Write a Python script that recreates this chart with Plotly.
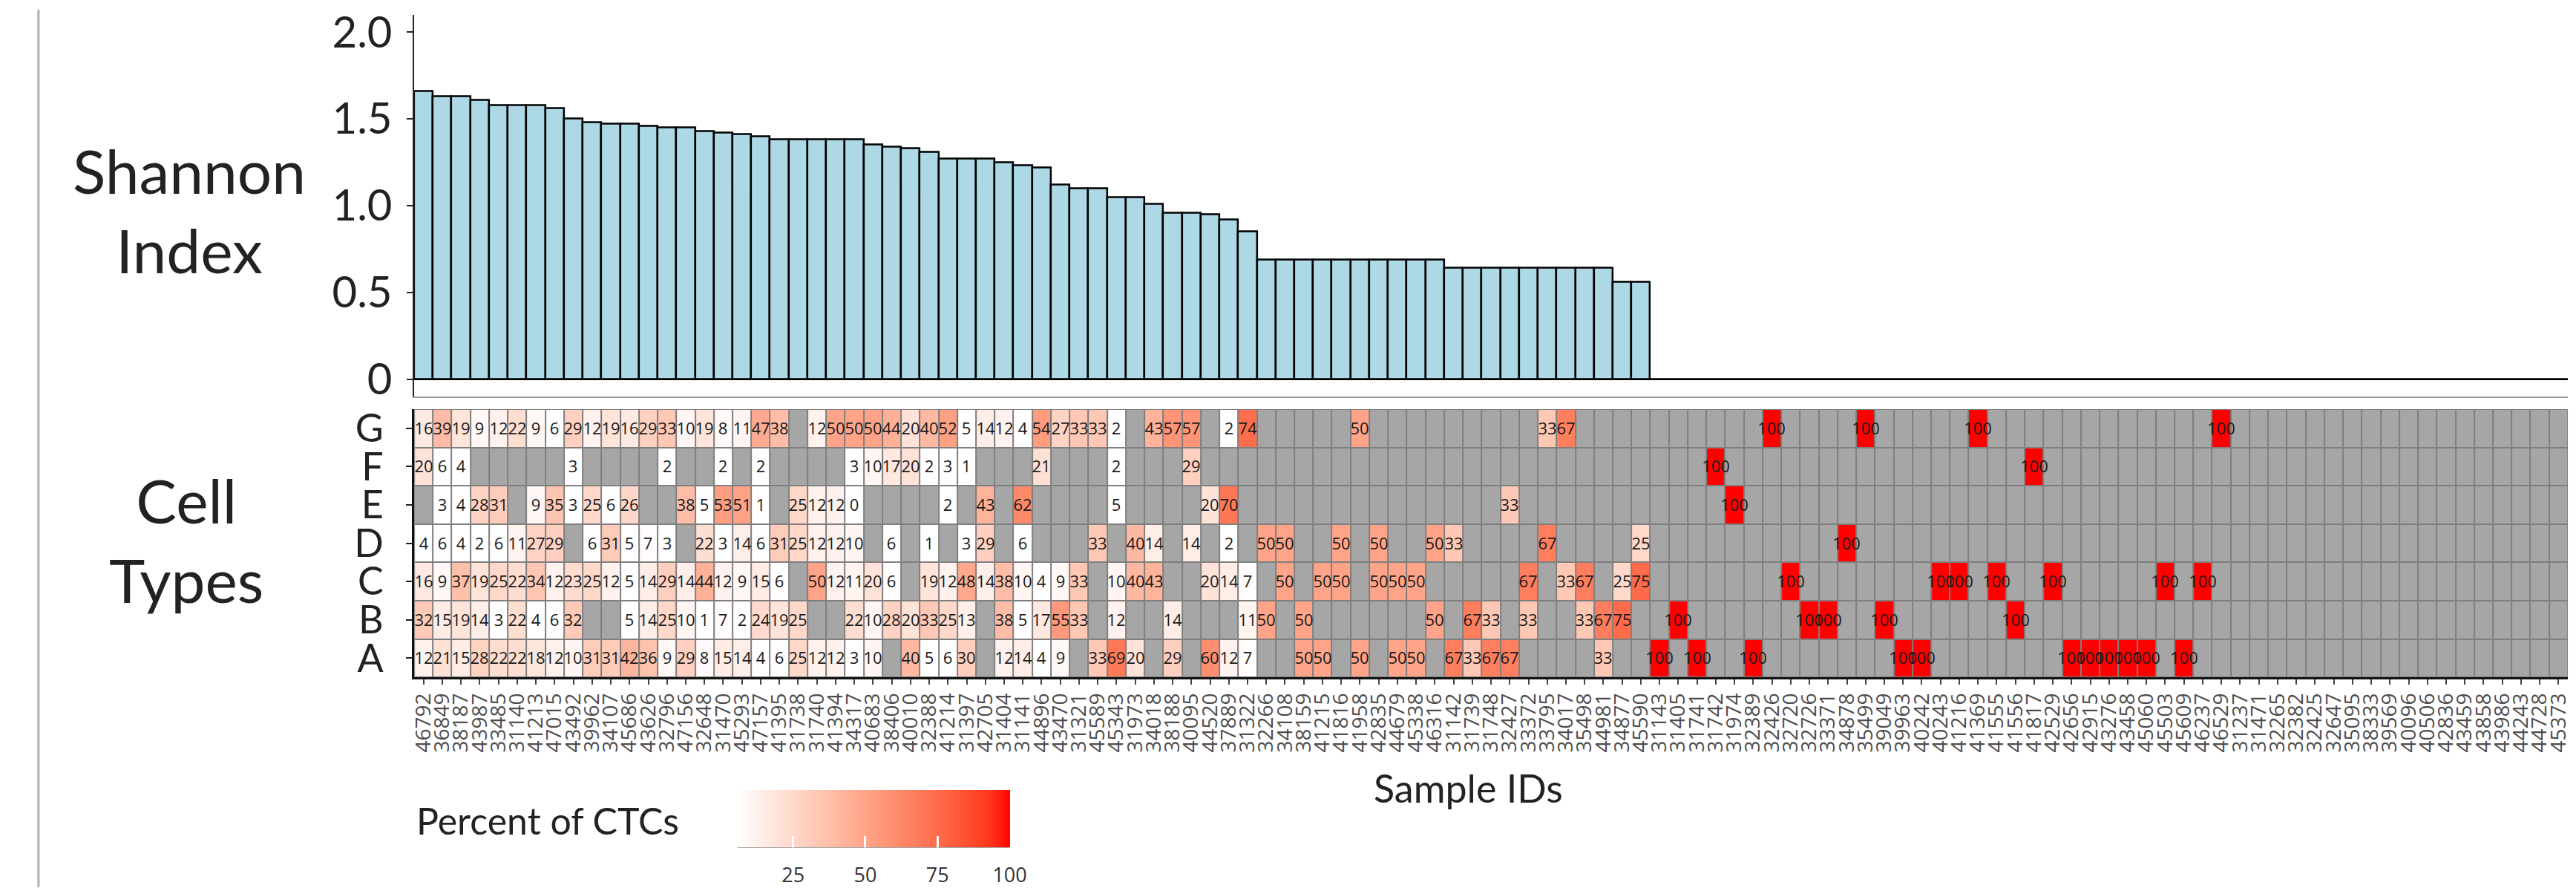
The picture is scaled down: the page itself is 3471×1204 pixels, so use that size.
import numpy as np
import plotly.graph_objects as go

N = None
W, H = 3471, 1204

samples = [
    "46792", "36849", "38187", "43987", "33485", "31140", "41213", "47015", "43492", "39962",
    "34107", "45686", "43626", "32796", "47156", "32648", "31470", "45293", "47157", "41395",
    "31738", "31740", "41394", "34317", "40683", "38406", "40010", "32388", "41214", "31397",
    "42705", "31404", "31141", "44896", "43470", "31321", "45589", "45343", "31973", "34018",
    "38188", "40095", "44520", "37889", "31322", "32266", "34108", "38159", "41215", "41816",
    "41958", "42835", "44679", "45338", "46316", "31142", "31739", "31748", "32427", "33372",
    "33795", "34017", "35498", "44981", "34877", "45590", "31143", "31405", "31741", "31742",
    "31974", "32389", "32426", "32720", "32726", "33371", "34878", "35499", "39049", "39963",
    "40242", "40243", "41216", "41369", "41555", "41556", "41817", "42529", "42656", "42915",
    "43276", "43458", "45060", "45503", "45609", "46237", "46529", "31237", "31471", "32265",
    "32382", "32425", "32647", "35095", "38333", "39569", "40096", "40506", "42836", "43459",
    "43858", "43986", "44243", "44728", "45373",
]

shannon = [
    1.66, 1.63, 1.63, 1.61, 1.58, 1.58, 1.58, 1.56, 1.50, 1.48,
    1.47, 1.47, 1.46, 1.45, 1.45, 1.43, 1.42, 1.41, 1.40, 1.38,
    1.38, 1.38, 1.38, 1.38, 1.35, 1.34, 1.33, 1.31, 1.27, 1.27,
    1.27, 1.25, 1.23, 1.22, 1.12, 1.10, 1.10, 1.05, 1.05, 1.01,
    0.96, 0.96, 0.95, 0.92, 0.85, 0.69, 0.69, 0.69, 0.69, 0.69,
    0.69, 0.69, 0.69, 0.69, 0.69, 0.64, 0.64, 0.64, 0.64, 0.64,
    0.64, 0.64, 0.64, 0.64, 0.56, 0.56, 0, 0, 0, 0,
    0, 0, 0, 0, 0, 0, 0, 0, 0, 0,
    0, 0, 0, 0, 0, 0, 0, 0, 0, 0,
    0, 0, 0, 0, 0, 0, 0, 0, 0, 0,
    0, 0, 0, 0, 0, 0, 0, 0, 0, 0,
    0, 0, 0, 0, 0,
]

row_G = [16, 39, 19, 9, 12, 22, 9, 6, 29, 12,
         19, 16, 29, 33, 10, 19, 8, 11, 47, 38,
         N, 12, 50, 50, 50, 44, 20, 40, 52, 5,
         14, 12, 4, 54, 27, 33, 33, 2, N, 43,
         57, 57, N, 2, 74, N, N, N, N, N,
         50, N, N, N, N, N, N, N, N, N,
         33, 67, N, N, N, N, N, N, N, N,
         N, N, 100, N, N, N, N, 100, N, N,
         N, N, N, 100, N, N, N, N, N, N,
         N, N, N, N, N, N, 100, N, N, N,
         N, N, N, N, N, N, N, N, N, N,
         N, N, N, N, N]
row_F = [20, 6, 4, N, N, N, N, N, 3, N,
         N, N, N, 2, N, N, 2, N, 2, N,
         N, N, N, 3, 10, 17, 20, 2, 3, 1,
         N, N, N, 21, N, N, N, 2, N, N,
         N, 29, N, N, N, N, N, N, N, N,
         N, N, N, N, N, N, N, N, N, N,
         N, N, N, N, N, N, N, N, N, 100,
         N, N, N, N, N, N, N, N, N, N,
         N, N, N, N, N, N, 100, N, N, N,
         N, N, N, N, N, N, N, N, N, N,
         N, N, N, N, N, N, N, N, N, N,
         N, N, N, N, N]
row_E = [N, 3, 4, 28, 31, N, 9, 35, 3, 25,
         6, 26, N, N, 38, 5, 53, 51, 1, N,
         25, 12, 12, 0, N, N, N, N, 2, N,
         43, N, 62, N, N, N, N, 5, N, N,
         N, N, 20, 70, N, N, N, N, N, N,
         N, N, N, N, N, N, N, N, 33, N,
         N, N, N, N, N, N, N, N, N, N,
         100, N, N, N, N, N, N, N, N, N,
         N, N, N, N, N, N, N, N, N, N,
         N, N, N, N, N, N, N, N, N, N,
         N, N, N, N, N, N, N, N, N, N,
         N, N, N, N, N]
row_D = [4, 6, 4, 2, 6, 11, 27, 29, N, 6,
         31, 5, 7, 3, N, 22, 3, 14, 6, 31,
         25, 12, 12, 10, N, 6, N, 1, N, 3,
         29, N, 6, N, N, N, 33, N, 40, 14,
         N, 14, N, 2, N, 50, 50, N, N, 50,
         N, 50, N, N, 50, 33, N, N, N, N,
         67, N, N, N, N, 25, N, N, N, N,
         N, N, N, N, N, N, 100, N, N, N,
         N, N, N, N, N, N, N, N, N, N,
         N, N, N, N, N, N, N, N, N, N,
         N, N, N, N, N, N, N, N, N, N,
         N, N, N, N, N]
row_C = [16, 9, 37, 19, 25, 22, 34, 12, 23, 25,
         12, 5, 14, 29, 14, 44, 12, 9, 15, 6,
         N, 50, 12, 11, 20, 6, N, 19, 12, 48,
         14, 38, 10, 4, 9, 33, N, 10, 40, 43,
         N, N, 20, 14, 7, N, 50, N, 50, 50,
         N, 50, 50, 50, N, N, N, N, N, 67,
         N, 33, 67, N, 25, 75, N, N, N, N,
         N, N, N, 100, N, N, N, N, N, N,
         N, 100, 100, N, 100, N, N, 100, N, N,
         N, N, N, 100, N, 100, N, N, N, N,
         N, N, N, N, N, N, N, N, N, N,
         N, N, N, N, N]
row_B = [32, 15, 19, 14, 3, 22, 4, 6, 32, N,
         N, 5, 14, 25, 10, 1, 7, 2, 24, 19,
         25, N, N, 22, 10, 28, 20, 33, 25, 13,
         N, 38, 5, 17, 55, 33, N, 12, N, N,
         14, N, N, N, 11, 50, N, 50, N, N,
         N, N, N, N, 50, N, 67, 33, N, 33,
         N, N, 33, 67, 75, N, N, 100, N, N,
         N, N, N, N, 100, 100, N, N, 100, N,
         N, N, N, N, N, 100, N, N, N, N,
         N, N, N, N, N, N, N, N, N, N,
         N, N, N, N, N, N, N, N, N, N,
         N, N, N, N, N]
row_A = [12, 21, 15, 28, 22, 22, 18, 12, 10, 31,
         31, 42, 36, 9, 29, 8, 15, 14, 4, 6,
         25, 12, 12, 3, 10, N, 40, 5, 6, 30,
         N, 12, 14, 4, 9, N, 33, 69, 20, N,
         29, N, 60, 12, 7, N, N, 50, 50, N,
         50, N, 50, 50, N, 67, 33, 67, 67, N,
         N, N, N, 33, N, N, 100, N, 100, N,
         N, 100, N, N, N, N, N, N, N, 100,
         100, N, N, N, N, N, N, N, 100, 100,
         100, 100, 100, N, 100, N, N, N, N, N,
         N, N, N, N, N, N, N, N, N, N,
         N, N, N, N, N]

cell_types = ["A", "B", "C", "D", "E", "F", "G"]
legend_ticks = [25, 50, 75, 100]
rows = [row_A, row_B, row_C, row_D, row_E, row_F, row_G]
for r in rows:
    assert len(r) == len(samples), len(r)
assert len(shannon) == len(samples)

z = np.array([[np.nan if v is None else v for v in r] for r in rows], dtype=float)
txt = [["" if v is None else str(v) for v in r] for r in rows]
z_na = np.where(np.isnan(z), 50.0, np.nan)


# white -> red gradient interpolated in CIELAB (like ggplot2 scale_fill_gradient)
def _lin(c):
    c = c / 255.0
    return c / 12.92 if c <= 0.04045 else ((c + 0.055) / 1.055) ** 2.4


def _gam(c):
    c = max(0.0, min(1.0, c))
    return 12.92 * c if c <= 0.0031308 else 1.055 * c ** (1 / 2.4) - 0.055


WN = (0.95047, 1.0, 1.08883)
D = 6 / 29


def _f(t):
    return t ** (1 / 3) if t > D ** 3 else t / (3 * D * D) + 4 / 29


def _fi(t):
    return t ** 3 if t > D else 3 * D * D * (t - 4 / 29)


def to_lab(rgb):
    r, g, b = [_lin(c) for c in rgb]
    X = 0.4124 * r + 0.3576 * g + 0.1805 * b
    Y = 0.2126 * r + 0.7152 * g + 0.0722 * b
    Z = 0.0193 * r + 0.1192 * g + 0.9505 * b
    fx, fy, fz = _f(X / WN[0]), _f(Y / WN[1]), _f(Z / WN[2])
    return (116 * fy - 16, 500 * (fx - fy), 200 * (fy - fz))


def to_rgb(lab):
    L, a, b = lab
    fy = (L + 16) / 116
    fx = fy + a / 500
    fz = fy - b / 200
    X, Y, Z = WN[0] * _fi(fx), WN[1] * _fi(fy), WN[2] * _fi(fz)
    r = 3.2406 * X - 1.5372 * Y - 0.4986 * Z
    g = -0.9689 * X + 1.8758 * Y + 0.0415 * Z
    bb = 0.0557 * X - 0.2040 * Y + 1.0570 * Z
    return "rgb(%d,%d,%d)" % tuple(round(255 * _gam(c)) for c in (r, g, bb))


lab_lo, lab_hi = to_lab((255, 255, 255)), to_lab((255, 0, 0))
colorscale = []
for i in range(21):
    t = i / 20
    colorscale.append([t, to_rgb(tuple(lab_lo[k] + t * (lab_hi[k] - lab_lo[k]) for k in range(3)))])

px = lambda x: x / W
py = lambda y: 1 - y / H

ZMIN, ZMAX = 5.7, 100
CB_X0, CB_LEN = 989, 367
xdom = [px(552), px(3464)]
fig = go.Figure()

fig.add_trace(go.Bar(
    x=samples, y=shannon, xaxis="x", yaxis="y",
    marker=dict(color="#ADD8E6", line=dict(color="black", width=2.5)),
    showlegend=False, hoverinfo="x+y",
))

# missing cells (grey); its (invisible, zero-thickness) colour bar carries the legend tick labels
fig.add_trace(go.Heatmap(
    x=samples, y=cell_types, z=z_na, xaxis="x2", yaxis="y2",
    colorscale=[[0, "#A6A6A6"], [1, "#A6A6A6"]], zmin=ZMIN, zmax=ZMAX,
    xgap=2, ygap=2, hoverinfo="skip", showscale=True,
    colorbar=dict(
        orientation="h", x=px(CB_X0), xanchor="left", y=py(1148), yanchor="top",
        len=CB_LEN, lenmode="pixels", thickness=0, thicknessmode="pixels",
        xpad=0, ypad=0, outlinewidth=0,
        tickvals=legend_ticks, ticks="outside", tickcolor="white", ticklen=16,
        tickfont=dict(family="Open Sans", size=27, color="#333333"),
    ),
))

fig.add_trace(go.Heatmap(
    x=samples, y=cell_types, z=z, text=txt, xaxis="x2", yaxis="y2",
    texttemplate="%{text}",
    textfont=dict(family="Open Sans", size=22, color="#1a1a1a"),
    colorscale=colorscale, zmin=ZMIN, zmax=ZMAX,
    xgap=2, ygap=2, hoverongaps=False,
    colorbar=dict(
        orientation="h", x=px(CB_X0), xanchor="left", y=py(1071), yanchor="top",
        len=CB_LEN, lenmode="pixels", thickness=77, thicknessmode="pixels",
        xpad=0, ypad=0, outlinewidth=0,
        tickvals=legend_ticks, ticks="inside", tickcolor="white",
        ticklen=15, tickwidth=3, showticklabels=False,
    ),
))

fig.update_layout(
    width=W, height=H, autosize=False,
    margin=dict(l=0, r=0, t=0, b=0),
    paper_bgcolor="white", plot_bgcolor="white",
    bargap=0,
    xaxis=dict(
        domain=xdom, type="category", categoryorder="array", categoryarray=samples,
        range=[-0.5, len(samples) - 0.5], showticklabels=False, ticks="",
        showline=True, linecolor="#9a9a9a", linewidth=2, showgrid=False, zeroline=False,
        anchor="y",
    ),
    yaxis=dict(
        domain=[py(531), py(7)], range=[-0.1, 2.1],
        tickvals=[0, 0.5, 1.0, 1.5, 2.0], ticktext=["0", "0.5", "1.0", "1.5", "2.0"],
        tickfont=dict(family="Lato", size=58, color="#222222"),
        ticks="outside", ticklen=8, tickwidth=2, tickcolor="#222222",
        ticklabelstandoff=8,
        showline=True, linecolor="#222222", linewidth=2, showgrid=False,
        zeroline=True, zerolinecolor="black", zerolinewidth=2,
        anchor="x",
    ),
    xaxis2=dict(
        domain=xdom, type="category", categoryorder="array", categoryarray=samples,
        range=[-0.5, len(samples) - 0.5], tickangle=-90,
        tickmode="array", tickvals=samples, ticktext=samples,
        tickfont=dict(family="Open Sans", size=28, color="#4d4d4d"),
        ticks="outside", ticklen=7, tickwidth=2, tickcolor="#444444",
        showline=True, linecolor="#111111", linewidth=3, showgrid=False, zeroline=False,
        anchor="y2",
    ),
    yaxis2=dict(
        domain=[py(916), py(548)], type="category",
        categoryorder="array", categoryarray=cell_types,
        tickmode="array", tickvals=cell_types, ticktext=cell_types,
        tickfont=dict(family="Lato", size=52, color="#222222"),
        ticks="outside", ticklen=8, tickwidth=2, tickcolor="#222222",
        ticklabelstandoff=20,
        showline=True, linecolor="#111111", linewidth=3, showgrid=False, zeroline=False,
        anchor="x2",
    ),
    shapes=[
        dict(type="rect", xref="x2 domain", yref="y2 domain", x0=0, x1=1, y0=0, y1=1,
             fillcolor="#7F7F7F", line=dict(width=0), layer="below"),
        dict(type="line", xref="paper", yref="paper", x0=px(44), x1=px(44), y0=0, y1=1,
             line=dict(color="#A9B1B8", width=3)),
    ],
    annotations=[
        dict(text="Shannon<br>Index", x=px(248), y=py(275), xref="paper", yref="paper",
             showarrow=False, xanchor="center", yanchor="middle",
             font=dict(family="Lato", size=82, color="#222222")),
        dict(text="Cell<br>Types", x=px(244), y=py(727), xref="paper", yref="paper",
             showarrow=False, xanchor="center", yanchor="middle",
             font=dict(family="Lato", size=82, color="#222222")),
        dict(text="Sample IDs", x=px(1977), y=py(1067), xref="paper", yref="paper",
             showarrow=False, xanchor="center", yanchor="middle",
             font=dict(family="Lato", size=52, color="#222222")),
        dict(text="Percent of CTCs", x=px(912), y=py(1112), xref="paper", yref="paper",
             showarrow=False, xanchor="right", yanchor="middle",
             font=dict(family="Lato", size=50, color="#222222")),
    ],
)

fig.write_html("out.html", config={"displayModeBar": False})
